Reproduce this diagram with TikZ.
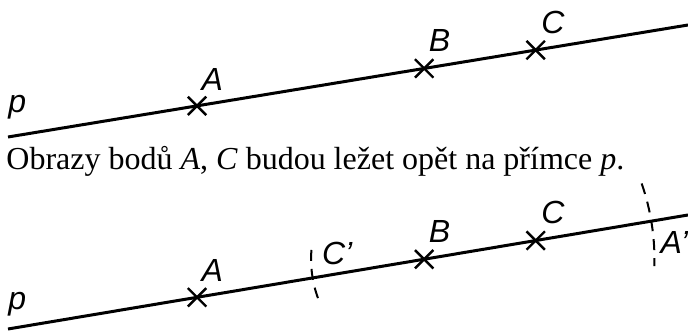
\documentclass[tikz,border=0pt]{standalone}
\usepackage{fontspec}
\setmainfont{Liberation Serif}
\setsansfont{Liberation Sans}
\usepackage{tikz}
\usetikzlibrary{shapes.misc, positioning, calc}

\begin{document}
\begin{tikzpicture}[
    x=0.5pt, y=0.5pt,
    pline/.style={line width=1.5pt},
    xmark/.style={cross out, draw, line width=1.2pt, inner sep=0pt, minimum size=8pt},
    lbl/.style={font=\fontsize{16}{19}\selectfont\sffamily\itshape, inner sep=0pt},
    caption/.style={font=\fontsize{16}{19}\selectfont\rmfamily, inner sep=0pt},
    arcmark/.style={line width=1pt, dash pattern=on 5.5pt off 4pt}
]
\useasboundingbox (0,0) rectangle (688,331);
\clip (0,0) rectangle (688,331);
% Upper line
\coordinate (s1) at (8,194);
\coordinate (e1) at (688,306);
\draw[pline] (s1) -- (e1)
    node[xmark, pos=0.278] (A1) {}
    node[xmark, pos=0.612] (B1) {}
    node[xmark, pos=0.776] (C1) {};
\node[lbl, above right=8.5pt and 0pt of s1] (p1) {p};
\node[lbl, above right=3pt and -2.5pt of A1] (lA1) {A};
\node[lbl, above right=3.5pt and -2.5pt of B1] (lB1) {B};
\node[lbl, above right=3.5pt and -2pt of C1] (lC1) {C};
% Caption
\node[caption, anchor=base west] (cap) at (6,161)
    {Obrazy bodů \textit{A}, \textit{C} budou ležet opět na přímce \textit{p}.};
% Lower line
\coordinate (s2) at (8,2);
\coordinate (e2) at (688,116);
\draw[pline] (s2) -- (e2)
    node[xmark, pos=0.278] (A2) {}
    node[xmark, pos=0.612] (B2) {}
    node[xmark, pos=0.776] (C2) {}
    coordinate[pos=0.448] (C2p)
    coordinate[pos=0.946] (A2p);
\node[lbl, above right=6pt and 0pt of s2] (p2) {p};
\node[lbl, above right=3pt and -2.5pt of A2] (lA2) {A};
\node[lbl, above right=3.5pt and -2.5pt of B2] (lB2) {B};
\node[lbl, above right=3.5pt and -2pt of C2] (lC2) {C};
% Compass arcs round B
\draw[arcmark] ($(B2)+(175.3:113.1)$) arc[start angle=175.3, end angle=202.2, radius=113.1];
\draw[arcmark] ($(B2)+(19.2:230.3)$) arc[start angle=19.2, end angle=-1.7, radius=230.3];
\node[lbl, above right=6.5pt and 4.5pt of C2p] (lC2p) {C’};
\node[lbl, below right=5pt and 4.5pt of A2p] (lA2p) {A’};
\end{tikzpicture}
\end{document}
